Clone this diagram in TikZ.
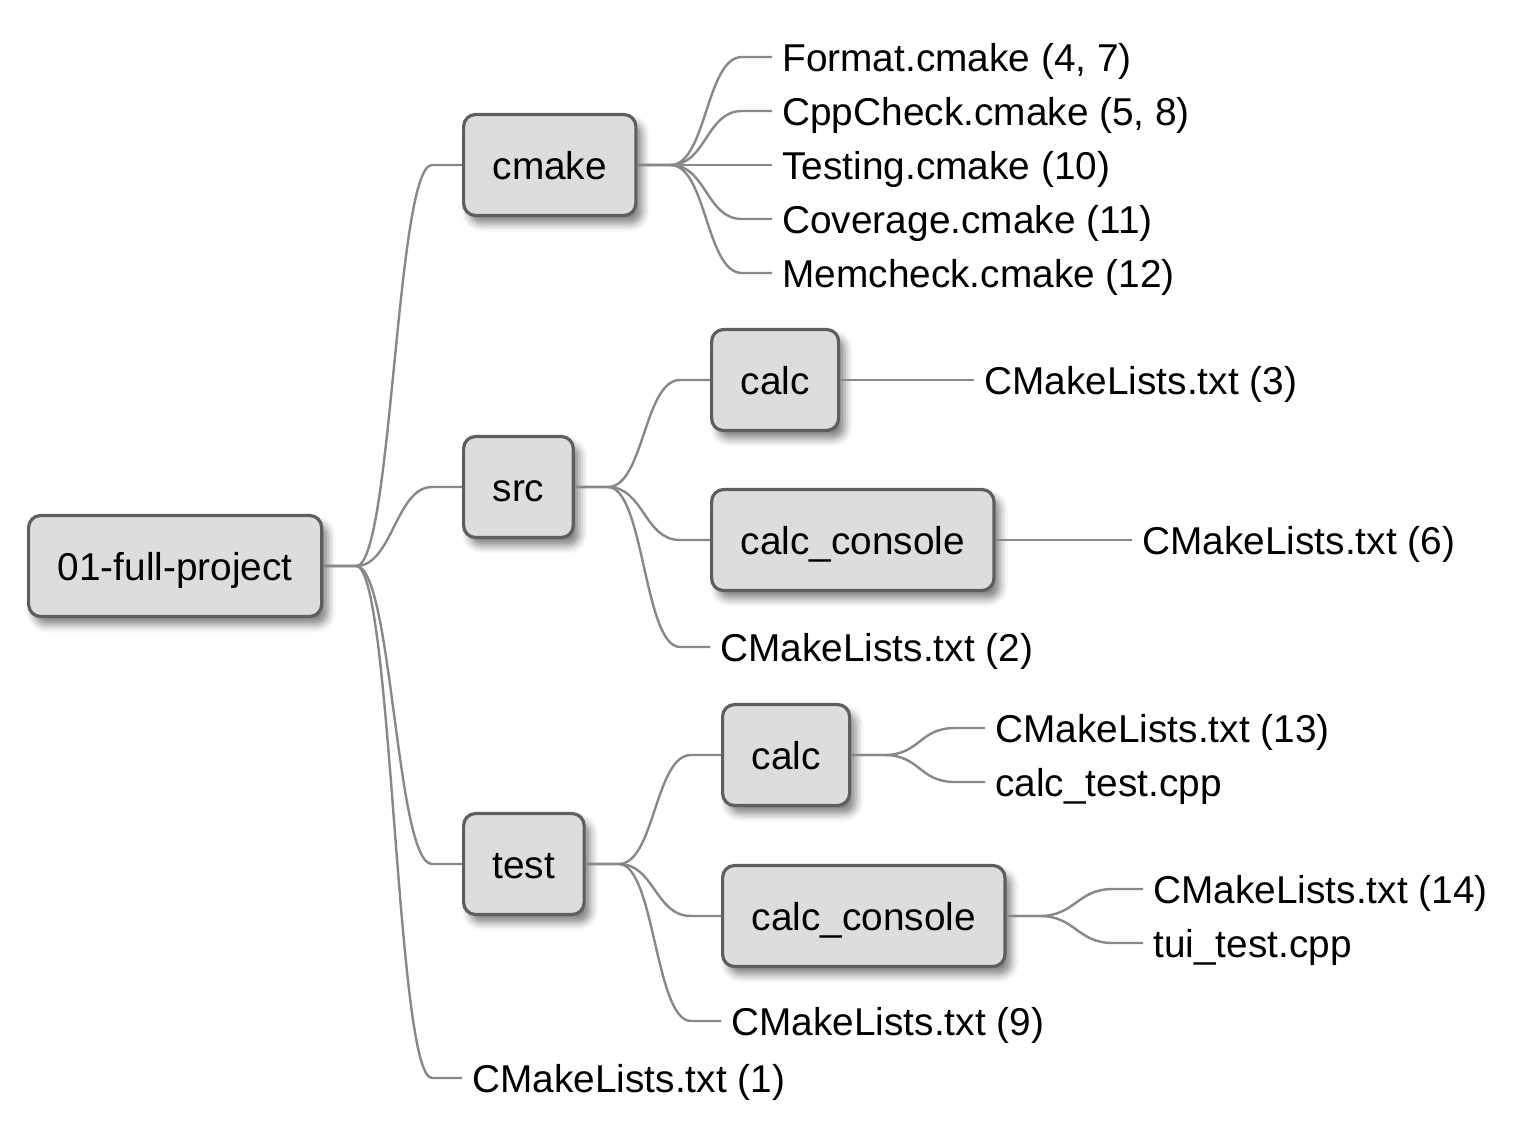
\documentclass[tikz,border=0pt]{standalone}
\usepackage{fontspec}
\setmainfont{Liberation Sans}
\usepackage{xcolor}
\usepackage{tikz}
\usetikzlibrary{calc,shadows.blur}

\definecolor{boxfill}{HTML}{DDDDDD}
\definecolor{boxline}{HTML}{5E5E5E}
\definecolor{linkline}{HTML}{888888}

\begin{document}
\begin{tikzpicture}[
    x=0.5pt, y=-0.5pt,
    font=\fontsize{19.4}{23}\selectfont,
    folder/.style={rectangle, rounded corners=6pt, draw=boxline, line width=1.6pt, fill=boxfill,
        minimum height=50.5pt, inner xsep=14.5pt, text height=14pt, text depth=0pt, anchor=west,
        blur shadow={shadow xshift=3pt, shadow yshift=-4pt, shadow blur radius=4pt, shadow opacity=50}},
    file/.style={anchor=west, inner xsep=5pt, inner ysep=0pt, text height=14pt, text depth=0pt},
    branch/.style={draw=linkline, line width=1.2pt,
        to path={-- ++(33,0) .. controls +(36,0) and +(-36,0) .. ($(\tikztotarget)+(-30,0)$) -- (\tikztotarget)}}
]
\useasboundingbox (0,0) rectangle (1522,1136);

\node[folder] (root) at (27,566) {01-full-project};

% cmake
\node[folder] (cmake) at (462,165) {cmake};
\node[file] (format) at (772,57) {Format.cmake (4, 7)};
\node[file] (cppcheck) at (772,111) {CppCheck.cmake (5, 8)};
\node[file] (testing) at (772,165) {Testing.cmake (10)};
\node[file] (coverage) at (772,219) {Coverage.cmake (11)};
\node[file] (memcheck) at (772,273) {Memcheck.cmake (12)};

% src
\node[folder] (src) at (462,487) {src};
\node[folder] (srccalc) at (710,380) {calc};
\node[file] (srccalclists) at (974,380) {CMakeLists.txt (3)};
\node[folder] (srcconsole) at (710,540) {calc\_console};
\node[file] (srcconsolelists) at (1132,540) {CMakeLists.txt (6)};
\node[file] (srclists) at (710,647) {CMakeLists.txt (2)};

% test
\node[folder] (test) at (462,864) {test};
\node[folder] (testcalc) at (721,755) {calc};
\node[file] (testcalclists) at (985,728) {CMakeLists.txt (13)};
\node[file] (calctest) at (985,782) {calc\_test.cpp};
\node[folder] (testconsole) at (721,916) {calc\_console};
\node[file] (testconsolelists) at (1143,889) {CMakeLists.txt (14)};
\node[file] (tuitest) at (1143,943) {tui\_test.cpp};
\node[file] (testlists) at (721,1021) {CMakeLists.txt (9)};

\node[file] (rootlists) at (462,1078) {CMakeLists.txt (1)};

% Connectors
\draw[branch] (root.east) to (cmake.west);
\draw[branch] (root.east) to (src.west);
\draw[branch] (root.east) to (test.west);
\draw[branch] (root.east) to (rootlists.west);

\draw[branch] (cmake.east) to (format.west);
\draw[branch] (cmake.east) to (cppcheck.west);
\draw[branch] (cmake.east) to (testing.west);
\draw[branch] (cmake.east) to (coverage.west);
\draw[branch] (cmake.east) to (memcheck.west);

\draw[branch] (src.east) to (srccalc.west);
\draw[branch] (src.east) to (srcconsole.west);
\draw[branch] (src.east) to (srclists.west);
\draw[branch] (srccalc.east) to (srccalclists.west);
\draw[branch] (srcconsole.east) to (srcconsolelists.west);

\draw[branch] (test.east) to (testcalc.west);
\draw[branch] (test.east) to (testconsole.west);
\draw[branch] (test.east) to (testlists.west);
\draw[branch] (testcalc.east) to (testcalclists.west);
\draw[branch] (testcalc.east) to (calctest.west);
\draw[branch] (testconsole.east) to (testconsolelists.west);
\draw[branch] (testconsole.east) to (tuitest.west);

\end{tikzpicture}
\end{document}
